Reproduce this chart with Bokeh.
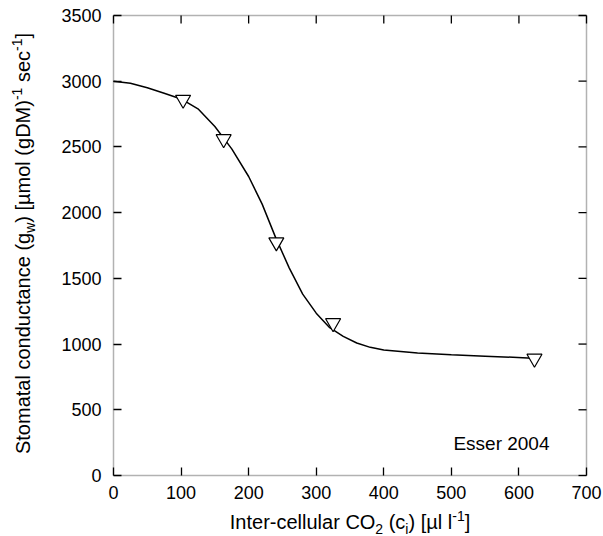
from math import pi
from bokeh.plotting import figure
from bokeh.models import LinearAxis, Label, FixedTicker, Range1d, BoxAnnotation
from bokeh.embed import file_html
from bokeh.resources import INLINE

# ---------------- data ----------------
curve_x = [0, 25, 50, 75, 100, 125, 150, 175, 200, 220, 240, 260, 280, 300,
           320, 340, 360, 380, 400, 450, 500, 550, 620]
curve_y = [3000, 2985, 2950, 2908, 2865, 2790, 2655, 2485, 2275, 2065, 1810,
           1580, 1380, 1235, 1125, 1058, 1008, 975, 955, 932, 918, 908, 893]
obs_x = [103, 163, 241, 325, 623]
obs_y = [2860, 2560, 1775, 1160, 890]
x_ticks = [0, 100, 200, 300, 400, 500, 600, 700]
y_ticks = [0, 500, 1000, 1500, 2000, 2500, 3000, 3500]
annotation = "Esser 2004"

# ---------------- layout constants ----------------
W, H = 603, 536
FL, FR, FT, FB = 113, 586, 15, 475          # plot box in canvas pixels
XMIN, XMAX, YMIN, YMAX = 0, 700, 0, 3500
FONT = "Liberation Sans"
TICK_SIZE = 18
TITLE_SIZE = 20
SUB = 0.7
TICK_LEN = 8
BASE_FIX = 0.38   # em correction so that the anchor sits on the baseline


def dx(px):
    return XMIN + (px - FL) / (FR - FL) * (XMAX - XMIN)


def dy(py):
    return YMIN + (FB - py) / (FB - FT) * (YMAX - YMIN)


ADV = {' ': 278, '(': 333, ')': 333, '[': 278, ']': 278, '-': 333,
       'S': 667, 'I': 278, 'C': 722, 'O': 778, 'D': 722, 'M': 833, 'E': 667,
       'a': 556, 'c': 500, 'd': 556, 'e': 556, 'g': 556, 'i': 222, 'l': 222,
       'm': 833, 'n': 556, 'o': 556, 'r': 333, 's': 500, 't': 278, 'u': 556,
       'w': 722, 'µ': 576}
for _d in "0123456789":
    ADV[_d] = 556


def tw(s, size):
    return sum(ADV.get(c, 556) for c in s) / 1000.0 * size


# frame covers the whole canvas; the box 0..700 x 0..3500 sits inside it
p = figure(width=W, height=H, output_backend="svg", toolbar_location=None,
           x_range=Range1d(dx(0), dx(W)), y_range=Range1d(dy(H), dy(0)),
           min_border=0, min_border_left=0, min_border_right=0,
           min_border_top=0, min_border_bottom=0,
           x_axis_location=None, y_axis_location=None)
p.title.visible = False
p.grid.visible = False
p.background_fill_color = "white"
p.border_fill_color = "white"
p.outline_line_color = None


def make_axis(ticks, loc, bounds, standoff):
    ax = LinearAxis(ticker=FixedTicker(ticks=ticks), fixed_location=loc,
                    bounds=bounds)
    ax.axis_line_color = None
    ax.major_tick_in = TICK_LEN
    ax.major_tick_out = 0
    ax.major_tick_line_color = "black"
    ax.major_tick_line_width = 1.3
    ax.minor_tick_line_color = None
    ax.major_label_text_font = FONT
    ax.major_label_text_color = "black"
    ax.major_label_text_font_size = f"{TICK_SIZE}px"
    ax.major_label_standoff = standoff
    return ax


p.add_layout(make_axis(x_ticks, YMIN, (XMIN, XMAX), 10), "below")
p.add_layout(make_axis(y_ticks, XMIN, (YMIN, YMAX), 12), "left")

# plot box
p.add_layout(BoxAnnotation(left=XMIN, right=XMAX, bottom=YMIN, top=YMAX,
                           fill_color=None, line_color="black",
                           line_width=1.5))

# inward ticks on the top and right sides of the box
ly = TICK_LEN / (FB - FT) * (YMAX - YMIN)
lx = TICK_LEN / (FR - FL) * (XMAX - XMIN)
p.segment(x0=x_ticks, y0=[YMAX] * len(x_ticks), x1=x_ticks,
          y1=[YMAX - ly] * len(x_ticks), line_color="black", line_width=1.3)
p.segment(x0=[XMAX] * len(y_ticks), y0=y_ticks, x1=[XMAX - lx] * len(y_ticks),
          y1=y_ticks, line_color="black", line_width=1.3)

# fitted curve and observations
p.line(curve_x, curve_y, line_color="black", line_width=1.5)
p.scatter(obs_x, obs_y, marker="inverted_triangle", size=15,
          fill_color="white", line_color="black", line_width=1.2)


def text_label(px, py, text, size, angle=0.0, align="left"):
    return Label(x=dx(px), y=dy(py), text=text, angle=angle,
                 text_align=align, text_baseline="alphabetic",
                 text_font=FONT, text_font_size=f"{size:.1f}px",
                 text_color="black")


# ---------------- annotation ----------------
p.add_layout(text_label(549, 450 - BASE_FIX * 19, annotation, 19,
                        align="right"))

# ---------------- x-axis title with sub/superscripts ----------------
T = TITLE_SIZE
S = TITLE_SIZE * SUB
x_parts = [("Inter-cellular CO", T, 0), ("2", S, 0.22 * T), (" (c", T, 0),
           ("i", S, 0.22 * T), (") [µl l", T, 0), ("-1", S, -0.42 * T),
           ("]", T, 0)]
total = sum(tw(t, s) for t, s, _ in x_parts)
cur = (FL + FR) / 2 - total / 2
base = 529
for t, s, shift in x_parts:
    lead = len(t) - len(t.lstrip(" "))
    p.add_layout(text_label(cur + tw(" " * lead, s),
                            base + shift - BASE_FIX * s, t.strip(), s))
    cur += tw(t, s)

# ---------------- y-axis title (rotated, reads bottom to top) ----------------
y_parts = [("Stomatal conductance (g", T, 0), ("w", S, 0.25 * T),
           (") [µmol (gDM)", T, 0), ("-1", S, -0.42 * T), (" sec", T, 0),
           ("-1", S, -0.42 * T), ("]", T, 0)]
total = sum(tw(t, s) for t, s, _ in y_parts)
cur = (FT + FB) / 2 - 2 + total / 2
base_x = 30
for t, s, shift in y_parts:
    lead = len(t) - len(t.lstrip(" "))
    p.add_layout(text_label(base_x + shift - BASE_FIX * s,
                            cur - tw(" " * lead, s), t.strip(), s,
                            angle=pi / 2))
    cur -= tw(t, s)

open("out.html", "w").write(file_html(p, INLINE))
